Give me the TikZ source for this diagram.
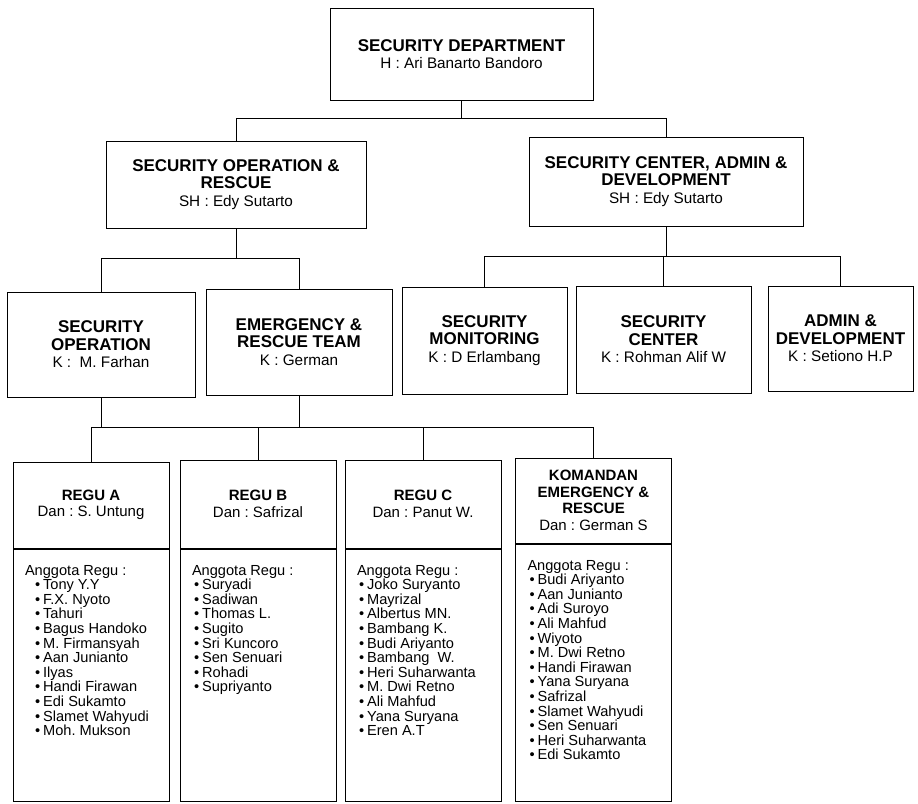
\documentclass[tikz,border=0pt]{standalone}
\usepackage{fontspec}
\setmainfont{Liberation Sans}
\frenchspacing
\newcommand\hd[1]{{\bfseries\fontsize{17}{17.6}\selectfont #1}}
\newlength\bulletind
\setlength\bulletind{2pt}
\newcommand\itm[1]{\mbox{\hspace*{\bulletind}\textbullet\hspace{3pt}#1}}

\begin{document}
\begin{tikzpicture}[x=1pt,y=-1pt,
  unit/.style={draw, line width=1pt, align=center, inner sep=2pt,
    font=\fontsize{15.3}{17.6}\selectfont},
  regu/.style={draw, line width=1pt, align=center, inner sep=2pt,
    minimum width=156pt, font=\fontsize{15}{16.6}\selectfont},
  members/.style={draw, line width=1pt, anchor=north, inner xsep=12pt,
    inner ysep=16pt, font=\fontsize{14.6}{14.6}\selectfont},
  link/.style={line width=0.9pt}]
\useasboundingbox (0,0) rectangle (918,803);

% Department
\node[unit, minimum width=263pt, minimum height=92pt] (dept) at (461.5,54)
  {\hd{SECURITY DEPARTMENT}\\H : Ari Banarto Bandoro};

% Sub departments
\node[unit, minimum width=260pt, minimum height=87pt] (sor) at (236,184.5)
  {\hd{SECURITY OPERATION \&}\\\hd{RESCUE}\\SH : Edy Sutarto};
\node[unit, minimum width=274pt, minimum height=89pt] (scad) at (666,181.5)
  {\hd{SECURITY CENTER, ADMIN \&}\\\hd{DEVELOPMENT}\\SH : Edy Sutarto};

% Sections
\node[unit, minimum width=188pt, minimum height=105pt] (so) at (101,344.5)
  {\hd{SECURITY}\\\hd{OPERATION}\\K :\ \ M. Farhan};
\node[unit, minimum width=186pt, minimum height=106pt] (ert) at (299,342)
  {\hd{EMERGENCY \&}\\\hd{RESCUE TEAM}\\K : German};
\node[unit, minimum width=165pt, minimum height=107pt] (smon) at (484.5,340.5)
  {\hd{SECURITY}\\\hd{MONITORING}\\K : D Erlambang};
\node[unit, minimum width=175pt, minimum height=107pt] (scen) at (663.5,339.5)
  {\hd{SECURITY}\\\hd{CENTER}\\K : Rohman Alif W};
\node[unit, minimum width=145pt, minimum height=105pt] (adm) at (840.5,338.5)
  {\hd{ADMIN \&}\\\hd{DEVELOPMENT}\\K : Setiono H.P};

% Squads
\node[regu, minimum height=86pt] (ra) at (91,505) {\textbf{REGU A}\\Dan : S. Untung};
\node[members] (raList) at (ra.south) {\parbox[t][220pt][t]{132pt}{\setlength\bulletind{10pt}%
  Anggota Regu :\\\itm{Tony Y.Y}\\\itm{F.X. Nyoto}\\\itm{Tahuri}\\\itm{Bagus Handoko}\\
  \itm{M. Firmansyah}\\\itm{Aan Junianto}\\\itm{Ilyas}\\\itm{Handi Firawan}\\
  \itm{Edi Sukamto}\\\itm{Slamet Wahyudi}\\\itm{Moh. Mukson}}};

\node[regu, minimum height=88pt] (rb) at (258,504) {\textbf{REGU B}\\Dan : Safrizal};
\node[members] (rbList) at (rb.south) {\parbox[t][220pt][t]{132pt}{%
  Anggota Regu :\\\itm{Suryadi}\\\itm{Sadiwan}\\\itm{Thomas L.}\\\itm{Sugito}\\
  \itm{Sri Kuncoro}\\\itm{Sen Senuari}\\\itm{Rohadi}\\\itm{Supriyanto}}};

\node[regu, minimum height=88pt] (rc) at (423,504) {\textbf{REGU C}\\Dan : Panut W.};
\node[members] (rcList) at (rc.south) {\parbox[t][220pt][t]{132pt}{%
  Anggota Regu :\\\itm{Joko Suryanto}\\\itm{Mayrizal}\\\itm{Albertus MN.}\\\itm{Bambang K.}\\
  \itm{Budi Ariyanto}\\\itm{Bambang\ \ W.}\\\itm{Heri Suharwanta}\\\itm{M. Dwi Retno}\\
  \itm{Ali Mahfud}\\\itm{Yana Suryana}\\\itm{Eren A.T}}};

\node[regu, minimum height=85pt] (rk) at (593.5,500.5)
  {\textbf{KOMANDAN}\\\textbf{EMERGENCY \&}\\\textbf{RESCUE}\\Dan : German S};
\node[members] (rkList) at (rk.south) {\parbox[t][225pt][t]{132pt}{%
  Anggota Regu :\\\itm{Budi Ariyanto}\\\itm{Aan Junianto}\\\itm{Adi Suroyo}\\\itm{Ali Mahfud}\\
  \itm{Wiyoto}\\\itm{M. Dwi Retno}\\\itm{Handi Firawan}\\\itm{Yana Suryana}\\
  \itm{Safrizal}\\\itm{Slamet Wahyudi}\\\itm{Sen Senuari}\\\itm{Heri Suharwanta}\\
  \itm{Edi Sukamto}}};

% Connectors
\coordinate (bus1) at (0,118);
\coordinate (bus2) at (0,258);
\coordinate (bus3) at (0,256);
\coordinate (bus4) at (0,427);

\draw[link] (dept.south) -- (dept.south |- bus1);
\draw[link] (sor.north) -- (sor.north |- bus1) -- (scad.north |- bus1) -- (scad.north);

\draw[link] (sor.south) -- (sor.south |- bus2);
\draw[link] (so.north) -- (so.north |- bus2) -- (ert.north |- bus2) -- (ert.north);

\draw[link] (scad.south) -- (scad.south |- bus3);
\draw[link] (smon.north) -- (smon.north |- bus3) -- (adm.north |- bus3) -- (adm.north);
\draw[link] (scen.north) -- (scen.north |- bus3);

\draw[link] (so.south) -- (so.south |- bus4);
\draw[link] (ert.south) -- (ert.south |- bus4);
\draw[link] (ra.north) -- (ra.north |- bus4) -- (rk.north |- bus4) -- (rk.north);
\draw[link] (rb.north) -- (rb.north |- bus4);
\draw[link] (rc.north) -- (rc.north |- bus4);
\end{tikzpicture}
\end{document}
